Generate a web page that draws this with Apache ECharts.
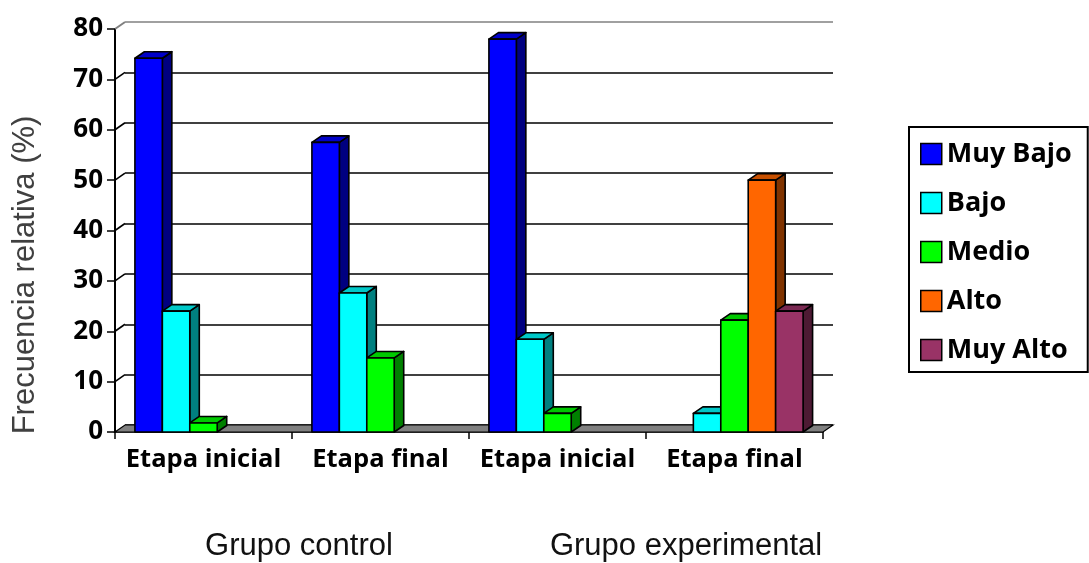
<!DOCTYPE html>
<html>
<head>
<meta charset="utf-8">
<script src="https://cdn.jsdelivr.net/npm/echarts@6/dist/echarts.min.js"></script>
<style>
html,body{margin:0;padding:0;background:#fff;}
#chart{width:1089px;height:563px;}
</style>
</head>
<body>
<div id="chart"></div>
<script>
// ---- data ----
const categories = ['Etapa inicial', 'Etapa final', 'Etapa inicial', 'Etapa final'];
const seriesNames = ['Muy Bajo', 'Bajo', 'Medio', 'Alto', 'Muy Alto'];
const muyBajo = [74.2, 57.5, 78.0, null];
const bajo    = [24.0, 27.6, 18.4, 3.7];
const medio   = [1.8, 14.7, 3.7, 22.2];
const alto    = [null, null, null, 50.0];
const muyAlto = [null, null, null, 24.0];
const groupLabels = ['Grupo control', 'Grupo experimental'];
const yAxisName = 'Frecuencia relativa (%)';
const yMin = 0, yMax = 80, yStep = 10;

// ---- styling ----
const frontColors = ['#0000FF', '#00FFFF', '#00FF00', '#FF6600', '#993366'];
const topColors   = ['#0000C8', '#00C8C8', '#00C800', '#C85000', '#7A2952'];
const sideColors  = ['#000080', '#008080', '#008000', '#803300', '#4D1A33'];
const CAT_GAP = 0.225;
const BAR_DX = 9.5, BAR_DY = -6.5;
const WALL_DX = 10, WALL_DY = -7;
const G = {left: 115, top: 29, width: 708, height: 403};

const allValues = [muyBajo, bajo, medio, alto, muyAlto];

function barRender(sIdx) {
  return function (params, api) {
    const cat = api.value(0), val = api.value(1);
    const top = api.coord([cat, val]);
    const base = api.coord([cat, 0]);
    const bw = api.size([1, 0])[0];
    const w = bw * (1 - CAT_GAP) / seriesNames.length;
    const x = top[0] - bw / 2 + bw * CAT_GAP / 2 + sIdx * w;
    const ty = top[1], by = base[1];
    const stroke = {stroke: '#000', lineWidth: 1.6, lineJoin: 'round'};
    return {
      type: 'group',
      children: [
        {type: 'polygon', shape: {points: [[x + w, ty], [x + w + BAR_DX, ty + BAR_DY], [x + w + BAR_DX, by + BAR_DY], [x + w, by]]},
          style: Object.assign({fill: sideColors[sIdx]}, stroke)},
        {type: 'polygon', shape: {points: [[x, ty], [x + w, ty], [x + w + BAR_DX, ty + BAR_DY], [x + BAR_DX, ty + BAR_DY]]},
          style: Object.assign({fill: topColors[sIdx]}, stroke)},
        {type: 'rect', shape: {x: x, y: ty, width: w, height: by - ty},
          style: Object.assign({fill: frontColors[sIdx]}, stroke)}
      ]
    };
  };
}

function decorRender(params, api) {
  const bw = api.size([1, 0])[0];
  const p0 = api.coord([0, yMin]);
  const p1 = api.coord([categories.length - 1, yMin]);
  const x0 = p0[0] - bw / 2, x1 = p1[0] + bw / 2, y0 = p0[1];
  const children = [];
  children.push({
    type: 'polygon',
    shape: {points: [[x0, y0], [x1, y0], [x1 + WALL_DX, y0 + WALL_DY], [x0 + WALL_DX, y0 + WALL_DY]]},
    style: {fill: '#808080', stroke: '#000', lineWidth: 1.2}
  });
  for (let v = yMin + yStep; v <= yMax; v += yStep) {
    const y = api.coord([0, v])[1];
    children.push({
      type: 'line',
      shape: {x1: x0, y1: y, x2: x0 + WALL_DX, y2: y + WALL_DY},
      style: {stroke: v === yMax ? '#808080' : '#000', lineWidth: v === yMax ? 2 : 1.6}
    });
  }
  return {type: 'group', children: children};
}

const series = seriesNames.map(function (name, s) {
  return {
    name: name,
    type: 'custom',
    xAxisIndex: 0, yAxisIndex: 0,
    z: 5,
    itemStyle: {color: frontColors[s]},
    renderItem: barRender(s),
    encode: {x: 0, y: 1},
    data: allValues[s].map(function (v, i) { return [i, v]; }).filter(function (d) { return d[1] != null; })
  };
});
series.push({
  name: 'decor', type: 'custom', xAxisIndex: 0, yAxisIndex: 0, z: 1, silent: true,
  renderItem: decorRender, data: [[0, 0]], encode: {x: 0, y: 1}
});

const splitColors = [];
for (let v = yMin; v <= yMax; v += yStep) splitColors.push(v === yMax ? '#808080' : '#000');

const boldFont = {fontFamily: '"Open Sans"', fontWeight: 'bold', color: '#000'};

const option = {
  animation: false,
  color: frontColors,
  grid: [
    {left: G.left, top: G.top, width: G.width, height: G.height},
    {left: G.left + WALL_DX, top: G.top + WALL_DY, width: G.width, height: G.height}
  ],
  xAxis: [
    {type: 'category', gridIndex: 0, data: categories,
      axisLine: {lineStyle: {color: '#000', width: 1.5}},
      axisTick: {show: true, length: 7, lineStyle: {color: '#000', width: 1.5}},
      axisLabel: Object.assign({fontSize: 25.5, margin: 15, interval: 0}, boldFont)},
    {type: 'category', gridIndex: 1, data: categories, show: false}
  ],
  yAxis: [
    {type: 'value', gridIndex: 0, min: yMin, max: yMax, interval: yStep,
      axisLine: {show: true, lineStyle: {color: '#000', width: 2}},
      axisTick: {show: true, length: 8, lineStyle: {color: '#000', width: 1.5}},
      splitLine: {show: false},
      axisLabel: Object.assign({fontSize: 26, margin: 12, padding: [0, 0, 10, 0]}, boldFont)},
    {type: 'value', gridIndex: 1, min: yMin, max: yMax, interval: yStep,
      axisLine: {show: false}, axisTick: {show: false}, axisLabel: {show: false},
      splitLine: {show: true, lineStyle: {color: splitColors, width: 1.6}}}
  ],
  legend: {
    orient: 'vertical', left: 909, top: 127,
    data: seriesNames,
    icon: 'rect', itemWidth: 21, itemHeight: 21, itemGap: 21,
    borderColor: '#000', borderWidth: 2, borderRadius: 0,
    padding: [13, 16, 8, 11],
    itemStyle: {borderColor: '#000', borderWidth: 1.5},
    textStyle: Object.assign({fontSize: 27, lineHeight: 28}, boldFont),
    selectedMode: false
  },
  graphic: [
    {type: 'text', x: 25, y: 275, rotation: Math.PI / 2,
      style: {text: yAxisName, font: '31px "Liberation Sans", Arial', fill: '#404040', textAlign: 'center', textVerticalAlign: 'middle'}},
    {type: 'text', x: 299, y: 546,
      style: {text: groupLabels[0], font: '31px "Liberation Sans", Arial', fill: '#111', textAlign: 'center', textVerticalAlign: 'middle'}},
    {type: 'text', x: 686, y: 546,
      style: {text: groupLabels[1], font: '31px "Liberation Sans", Arial', fill: '#111', textAlign: 'center', textVerticalAlign: 'middle'}}
  ],
  series: series
};

const chart = echarts.init(document.getElementById('chart'), null, {renderer: 'canvas'});
chart.setOption(option);
</script>
</body>
</html>
